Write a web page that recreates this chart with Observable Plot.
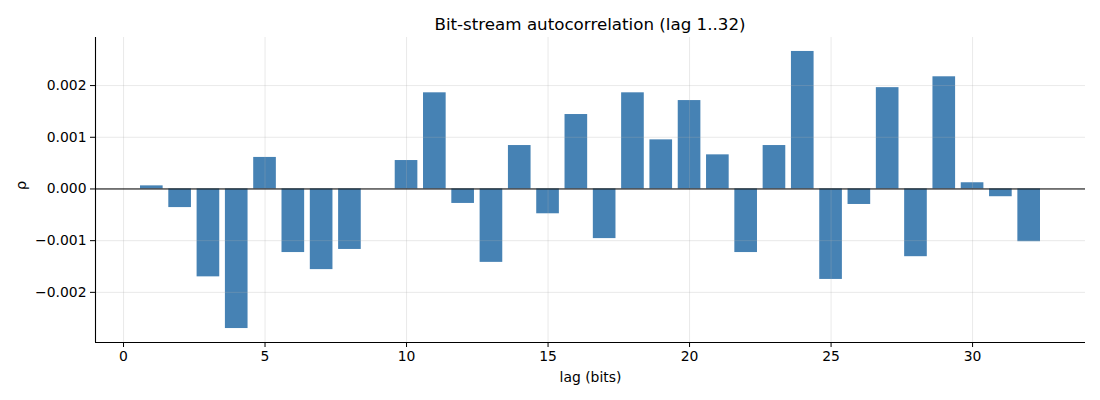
<!DOCTYPE html>
<html><head><meta charset="utf-8">
<script src="https://cdn.jsdelivr.net/npm/d3@7"></script>
<script src="https://cdn.jsdelivr.net/npm/@observablehq/plot@0.6"></script>
<style>
body{margin:0;background:#fff;font-family:"DejaVu Sans",sans-serif;}
#title{width:1100px;box-sizing:border-box;padding-left:80px;padding-top:16px;height:30px;text-align:center;font-size:16.7px;line-height:1;color:#000;}
#chart svg{display:block;}
</style></head><body>
<div id="title">Bit-stream autocorrelation (lag 1..32)</div>
<div id="chart"></div>
<script>
const lags = [1,2,3,4,5,6,7,8,9,10,11,12,13,14,15,16,17,18,19,20,21,22,23,24,25,26,27,28,29,30,31,32];
const rho = [0.00006,-0.00036,-0.0017,-0.0027,0.00061,-0.00123,-0.00156,-0.00117,0.0,0.00055,
             0.00186,-0.00028,-0.00142,0.00084,-0.00048,0.00144,-0.00096,0.00186,0.00095,0.00171,
             0.00066,-0.00123,0.00084,0.00266,-0.00175,-0.0003,0.00196,-0.00131,0.00217,0.00012,
             -0.00015,-0.00102];
const xTicks = [0,5,10,15,20,25,30];
const yTicks = [-0.002,-0.001,0,0.001,0.002];
const xDomain = [-0.99, 33.99];
const yDomain = [-0.00297, 0.00293];
const barWidth = 0.8;
const xLabel = "lag (bits)";
const yLabel = "ρ";

const data = lags.map((l,i)=>({lag:l, rho:rho[i]}));
const gridStyle = {stroke:"#b0b0b0", strokeOpacity:0.35, strokeWidth:0.8};

const chart = Plot.plot({
  width:1100, height:370,
  marginTop:7, marginBottom:58, marginLeft:95, marginRight:15,
  style:{fontFamily:"DejaVu Sans, sans-serif", fontSize:"13.9px", color:"#000", background:"#fff"},
  x:{domain:xDomain, ticks:xTicks, label:null},
  y:{domain:yDomain, ticks:yTicks, label:null},
  marks:[
    Plot.rect(data,{x1:d=>d.lag-barWidth/2, x2:d=>d.lag+barWidth/2, y1:()=>0, y2:"rho", fill:"#4682b4"}),
    Plot.ruleX(xTicks, {...gridStyle}),
    Plot.ruleY(yTicks, {...gridStyle}),
    Plot.ruleY([0], {stroke:"#000", strokeWidth:1}),
    Plot.ruleX([xDomain[0]], {stroke:"#000", strokeWidth:1.1}),
    Plot.ruleY([yDomain[0]], {stroke:"#000", strokeWidth:1.1}),
    Plot.axisX(xTicks,{tickSize:5, tickPadding:4, fontSize:13.9, label:null}),
    Plot.axisY(yTicks,{tickSize:5, tickPadding:4, fontSize:13.9, tickFormat:d3.format(".3f"), label:null}),
    Plot.text([xLabel],{text:d=>d, frameAnchor:"bottom", dy:35, lineAnchor:"middle", fontSize:13.9}),
    Plot.text([yLabel],{text:d=>d, frameAnchor:"left", dx:-74, rotate:-90, lineAnchor:"middle", fontSize:14.5})
  ]
});
document.getElementById("chart").appendChild(chart);
</script>
</body></html>
